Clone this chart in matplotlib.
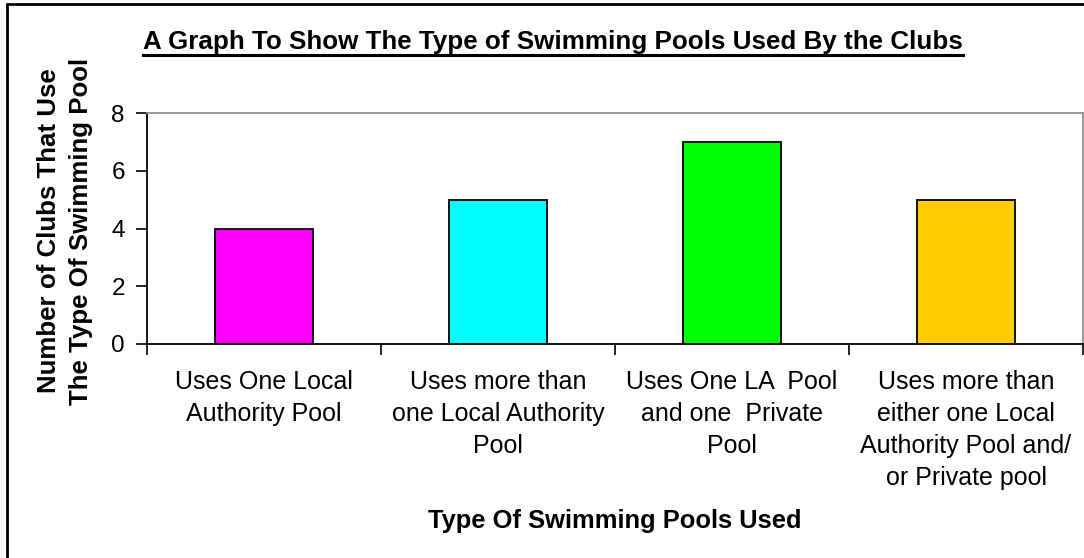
import matplotlib
matplotlib.use("Agg")
import matplotlib.pyplot as plt
from matplotlib.patches import Rectangle
from matplotlib.lines import Line2D

plt.rcParams['font.family'] = ['Liberation Sans', 'DejaVu Sans']

categories = ["Uses One Local\nAuthority Pool",
              "Uses more than\none Local Authority\nPool",
              "Uses One LA  Pool\nand one  Private\nPool",
              "Uses more than\neither one Local\nAuthority Pool and/\nor Private pool"]
values = [4, 5, 7, 5]
colors = ["#FF00FF", "#00FFFF", "#00FF00", "#FFCC00"]
yticks = [0, 2, 4, 6, 8]
title = "A Graph To Show The Type of Swimming Pools Used By the Clubs"
ylabel = "Number of Clubs That Use\nThe Type Of Swimming Pool"
xlabel = "Type Of Swimming Pools Used"

W, H = 1084, 558
fig = plt.figure(figsize=(W / 100, H / 100), dpi=100)
ax = fig.add_axes([147 / W, 1 - 344 / H, (1083 - 147) / W, (344 - 113) / H])

x = list(range(len(categories)))
ax.bar(x, values, width=0.42, color=colors, edgecolor="black", linewidth=1.3, zorder=3)
ax.set_xlim(-0.5, len(categories) - 0.5)
ax.set_ylim(0, 8)
ax.set_yticks(yticks)
ax.set_yticklabels([str(v) for v in yticks], fontsize=17.5)
ax.tick_params(axis='y', direction='out', length=8, width=1.2, pad=8)

ax.set_xticks(x)
ax.set_xticklabels(categories, fontsize=18, linespacing=1.42, va='top')
ax.tick_params(axis='x', length=0, pad=19)
# category separator ticks
ax.set_xticks([i - 0.5 for i in range(len(categories) + 1)], minor=True)
ax.tick_params(axis='x', which='minor', direction='out', length=8, width=1.2)

for s in ['left', 'bottom']:
    ax.spines[s].set_color('black')
    ax.spines[s].set_linewidth(1.3)
for s in ['top', 'right']:
    ax.spines[s].set_color('#909090')
    ax.spines[s].set_linewidth(1.3)

ax.set_xlabel(xlabel, fontsize=18.4, fontweight='bold')
ax.xaxis.set_label_coords(0.5, -(521 - 344) / (344 - 113), transform=ax.transAxes)
ax.xaxis.label.set_va('center')

fig.text(65 / W, 1 - 231 / H, ylabel, rotation=90, fontsize=18.6, fontweight='bold',
         ha='center', va='center', linespacing=1.4)

t = fig.text(553 / W, 1 - 42 / H, title, fontsize=18.7, fontweight='bold',
             ha='center', va='center')
fig.canvas.draw()
bb = t.get_window_extent(renderer=fig.canvas.get_renderer())
uy = bb.y0 - 1
fig.add_artist(Line2D([bb.x0 / W, bb.x1 / W], [uy / H, uy / H], transform=fig.transFigure,
                      color='black', linewidth=2.2))

# outer border
fig.add_artist(Rectangle((7 / W, -0.01), 1.1, 1 - 4 / H + 0.01, transform=fig.transFigure,
                         fill=False, edgecolor='black', linewidth=2))

fig.savefig("out.png", dpi=100)
